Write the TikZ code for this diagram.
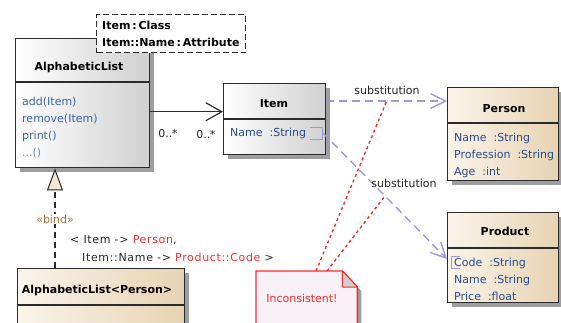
\documentclass[tikz,border=0pt]{standalone}
\usepackage{fontspec}
\setmainfont{DejaVu Sans}
\usetikzlibrary{arrows.meta,shadows,calc}
\definecolor{lineC}{HTML}{2B2B2B}
\definecolor{greyR}{HTML}{D0D0D0}
\definecolor{beigeL}{HTML}{FBF4EA}
\definecolor{beigeR}{HTML}{E6D3B3}
\definecolor{attrC}{HTML}{2A4B8D}
\definecolor{opC}{HTML}{3D66A8}
\definecolor{opL}{HTML}{7392C6}
\definecolor{lav}{HTML}{9C9CD4}
\definecolor{redC}{HTML}{FF2A2A}
\definecolor{bindC}{HTML}{B0703A}
\definecolor{noteF}{HTML}{F8F1F7}
\definecolor{triF}{HTML}{F2E6D4}
\definecolor{foldC}{HTML}{D0D0D0}
\definecolor{txtC}{HTML}{262626}
\begin{document}
\begin{tikzpicture}[x=1pt,y=-1pt,
  font=\fontsize{11}{13}\selectfont,
  shadowstyle/.style={drop shadow={shadow xshift=4pt, shadow yshift=-4pt, fill=black!38, opacity=1}},
  boxbase/.style={draw=lineC, line width=1.4pt, anchor=north west, inner sep=0pt, shadowstyle},
  greybox/.style={boxbase, left color=white, right color=greyR},
  beigebox/.style={boxbase, left color=beigeL, right color=beigeR},
  divider/.style={draw=lineC, line width=1.4pt},
  txt/.style={inner sep=0pt, text height=8pt, text depth=0pt, anchor=west},
  ctitle/.style={inner sep=0pt, text height=8pt, text depth=0pt, font=\fontsize{11}{13}\selectfont\bfseries},
  attr/.style={txt, text=attrC},
  opst/.style={txt, text=opC},
  lbl/.style={inner sep=0pt, text height=8pt, text depth=0pt, text=txtC},
  assoc/.style={draw=lineC, line width=1.2pt, -{Straight Barb[length=16pt,width=18pt]}},
  subst/.style={draw=lav, line width=1.4pt, dash pattern=on 8pt off 5pt, -{Straight Barb[length=15pt,width=15pt]}},
  bracket/.style={draw=lav, line width=1pt},
  incons/.style={draw=redC, line width=1.4pt, dash pattern=on 3pt off 3pt},
  bindline/.style={draw=lineC, line width=1.1pt, dash pattern=on 6pt off 4pt, -{Triangle[length=22pt,width=16pt,fill=triF,line width=1pt]}},
  bindtxt/.style={txt, text=txtC, font=\fontsize{11}{13}\selectfont\addfontfeatures{LetterSpace=6}}
]
\useasboundingbox (0,0) rectangle (561,322);

% AlphabeticList
\node[greybox, minimum width=134pt, minimum height=129pt] (AL) at (15,38) {};
\draw[divider] ([yshift=-44pt]AL.north west) -- ([yshift=-44pt]AL.north east);
\node[ctitle] (ALt) at (79,66) {AlphabeticList};
\node[opst] (op1) at (22,101) {add(Item)};
\node[opst] (op2) at (22,118) {remove(Item)};
\node[opst] (op3) at (22,135) {print()};
\node[txt, text=opL] (op4) at (22,152) {...()};

% template parameters
\node[draw=lineC, line width=1.4pt, dash pattern=on 6pt off 3pt, fill=white, minimum width=149pt, minimum height=38pt, anchor=north west, inner sep=0pt] (T) at (96,14) {};
\node[txt, font=\fontsize{11}{13}\selectfont\bfseries] (t1) at (102,25) {Item\,:\,Class};
\node[txt, font=\fontsize{11}{13}\selectfont\bfseries] (t2) at (102,42) {Item::Name\,:\,Attribute};

% Item
\node[greybox, minimum width=102pt, minimum height=71pt] (Item) at (223,83) {};
\draw[divider] ([yshift=-36pt]Item.north west) -- ([yshift=-36pt]Item.north east);
\node[ctitle] (Itemt) at (274,103) {Item};
\node[attr] (ItemName) at (230,132) {Name\ \ :String};

% Person
\node[beigebox, minimum width=111pt, minimum height=93pt] (Person) at (447,87) {};
\draw[divider] ([yshift=-36pt]Person.north west) -- ([yshift=-36pt]Person.north east);
\node[ctitle] (Persont) at (504,108) {Person};
\node[attr] (pa1) at (454,137) {Name\ \ :String};
\node[attr] (pa2) at (454,154) {Profession\ \ :String};
\node[attr] (pa3) at (454,171) {Age\ \ :int};

% Product
\node[beigebox, minimum width=111pt, minimum height=90pt] (Product) at (447,212) {};
\draw[divider] ([yshift=-36pt]Product.north west) -- ([yshift=-36pt]Product.north east);
\node[ctitle] (Productt) at (505,231) {Product};
\node[attr] (ProdCode) at (454,262) {Code\ \ :String};
\node[attr] (pr2) at (454,279) {Name\ \ :String};
\node[attr] (pr3) at (454,296) {Price\ \ :float};

% AlphabeticList<Person>
\node[beigebox, minimum width=167pt, minimum height=70pt] (AP) at (17,268) {};
\draw[divider] ([yshift=-37pt]AP.north west) -- ([yshift=-37pt]AP.north east);
\node[ctitle] (APt) at (97,289) {AlphabeticList<Person>};

% association
\coordinate (aE) at ([yshift=7.5pt]Item.west);
\draw[assoc] (AL.east |- aE) -- (aE);
\node[lbl] (m1) at (168,133) {0..*};
\node[lbl] (m2) at (206,134) {0..*};

% substitution 1
\coordinate (s1a) at ([yshift=-18pt]Item.north east);
\draw[subst] (s1a) -- coordinate[pos=0.5] (s1m) (s1a -| Person.west);
\node[lbl] (sl1) at (387,90) {substitution};

% substitution 2
\draw[bracket] (310,127) -| (322,139) -- (310,139);
\draw[bracket] (460,256) -- (451,256) -- (451,268) -- (460,268);
\coordinate (b1) at (323,133);
\coordinate (b2) at (447,259);
\draw[subst] (b1) -- coordinate[pos=0.5] (s2m) (b2);
\node[lbl] (sl2) at (404,183) {substitution};

% bind
\draw[bindline] ([xshift=38pt]AP.north west) -- ([xshift=40pt]AL.south west);
\node[inner sep=1pt, text height=8pt, text depth=0pt, fill=white, text=bindC] (bindl) at (55,219) {«bind»};
\node[bindtxt] (bt1) at (70,239) {< Item -> \textcolor{redC}{Person},};
\node[bindtxt] (bt2) at (82,257) {Item::Name -> \textcolor{redC}{Product::Code} >};

% note
\node[minimum width=101pt, minimum height=60pt, anchor=north west, inner sep=0pt] (note) at (256,271) {};
\draw[incons] ([xshift=60pt]note.north west) -- (s1m);
\draw[incons] ([xshift=71pt]note.north west) -- (s2m);
\draw[draw=redC, fill=noteF, line width=1.4pt, shadowstyle] (note.north west) -- ([xshift=-15pt]note.north east) -- ([yshift=-16pt]note.north east) -- (note.south east) -- (note.south west) -- cycle;
\draw[draw=redC, fill=foldC, line width=1pt, line join=round] ([xshift=-15pt]note.north east) -- ([xshift=-15pt,yshift=-16pt]note.north east) -- ([yshift=-16pt]note.north east) -- cycle;
\node[inner sep=0pt, text height=8pt, text depth=0pt, text=redC] (notet) at (302,298) {Inconsistent!};
\end{tikzpicture}
\end{document}
